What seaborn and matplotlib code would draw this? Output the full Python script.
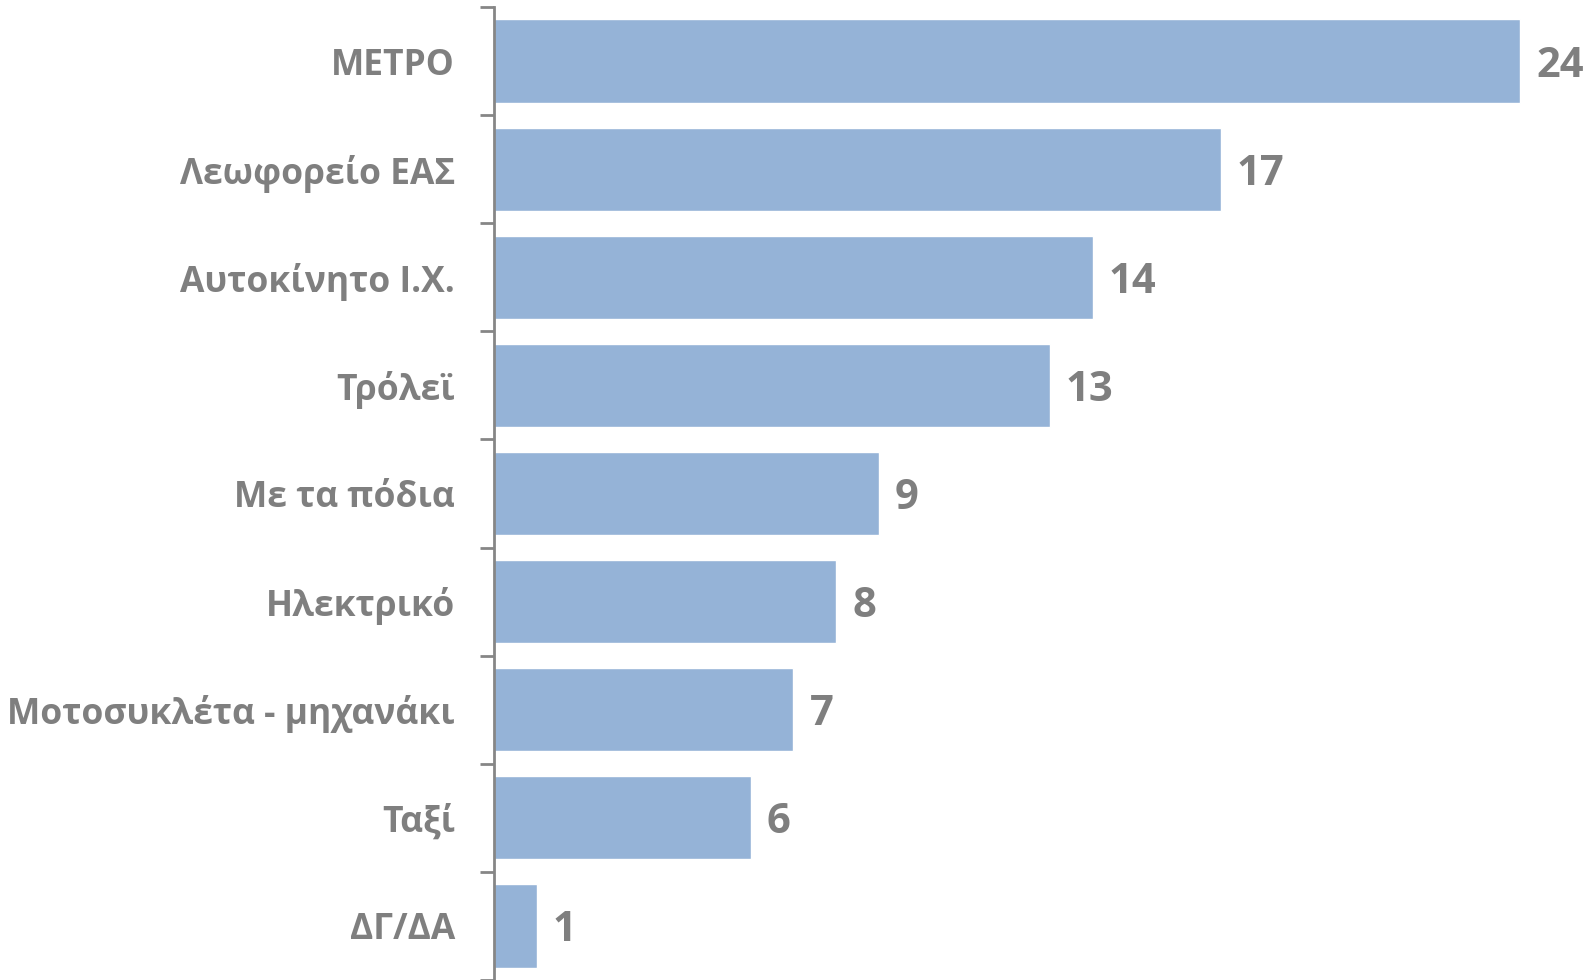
import matplotlib
matplotlib.use("Agg")
import matplotlib.pyplot as plt
import seaborn as sns
import numpy as np
import pandas as pd

categories = ["ΜΕΤΡΟ", "Λεωφορείο ΕΑΣ", "Αυτοκίνητο Ι.Χ.", "Τρόλεϊ", "Με τα πόδια",
              "Ηλεκτρικό", "Μοτοσυκλέτα - μηχανάκι", "Ταξί", "ΔΓ/ΔΑ"]
values = [24, 17, 14, 13, 9, 8, 7, 6, 1]

sns.set_theme(style="white")
plt.rcParams['font.family'] = ['Open Sans', 'DejaVu Sans']

df = pd.DataFrame({"cat": categories, "val": values})

fig = plt.figure(figsize=(15.94, 9.8), dpi=100)
ax = fig.add_axes([494/1594, 0.0, 1 - 494/1594, 1 - 7/980])

sns.barplot(data=df, x="val", y="cat", orient="h", color="#95B3D7", saturation=1,
            width=0.77, ax=ax)

n = len(categories)
ax.set_ylim(n - 0.5, -0.5)
ax.set_xlim(0, 1100/42.75)

gray = "#7F7F7F"
for i, v in enumerate(values):
    ax.text(v + 0.38, i, str(v), va="center_baseline", ha="left", fontsize=30,
            fontweight="bold", color=gray)

ax.set_xlabel("")
ax.set_ylabel("")
ax.set_xticks([])
ax.tick_params(axis="y", which="major", length=0, pad=28, labelsize=25.5, labelcolor=gray)
for lab in ax.get_yticklabels():
    lab.set_fontweight("bold")
ax.set_yticks(np.arange(-0.5, n, 1.0), minor=True)
ax.tick_params(axis="y", which="minor", length=10, width=2, color="#868686", left=True)

for s in ["top", "right", "bottom"]:
    ax.spines[s].set_visible(False)
ax.spines["left"].set_color("#868686")
ax.spines["left"].set_linewidth(2)

fig.savefig("out.png", dpi=100)
